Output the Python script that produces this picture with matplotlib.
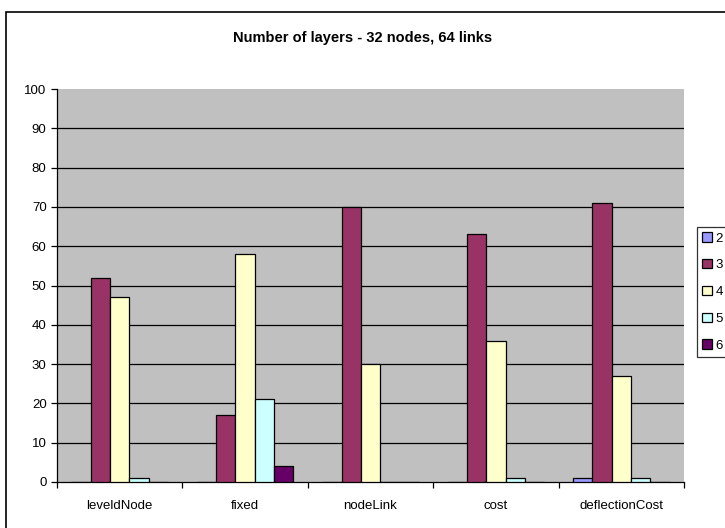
import matplotlib
matplotlib.use('Agg')
import matplotlib.pyplot as plt
import numpy as np
from matplotlib.patches import Rectangle

plt.rcParams['font.family'] = ['Liberation Sans', 'DejaVu Sans']

# Number of layers per routing method (32 nodes, 64 links)
methods = ['leveldNode', 'fixed', 'nodeLink', 'cost', 'deflectionCost']
layers = ['2', '3', '4', '5', '6']
layer2 = [0, 0, 0, 0, 1]
layer3 = [52, 17, 70, 63, 71]
layer4 = [47, 58, 30, 36, 27]
layer5 = [1, 21, 0, 1, 1]
layer6 = [0, 4, 0, 0, 0]
yticks = [0, 10, 20, 30, 40, 50, 60, 70, 80, 90, 100]

series = [layer2, layer3, layer4, layer5, layer6]
colors = ['#9999FF', '#993366', '#FFFFCC', '#CCFFFF', '#660066']

fig = plt.figure(figsize=(7.25, 5.28), dpi=100)
ax = fig.add_axes([57/725, 46/528, (684-57)/725, (482-89)/528])
ax.set_facecolor('#C0C0C0')

# outer chart border, runs off the right and bottom edges
fig.patches.append(Rectangle((6/725, -0.1), 1.2, 1 - 12/528 + 0.1,
                             transform=fig.transFigure, fill=False,
                             edgecolor='black', linewidth=1.2, clip_on=False))

n = len(series)
x = np.arange(len(methods))
w = 1.0 / (n + 1.5)
for i, (vals, c) in enumerate(zip(series, colors)):
    ax.bar(x + (i - (n - 1) / 2) * w, vals, w, color=c, edgecolor='black',
           linewidth=0.9, label=layers[i], zorder=3)

for t in yticks[1:-1]:
    ax.axhline(t, color='black', linewidth=0.9, zorder=1)

ax.set_xlim(-0.5, len(methods) - 0.5)
ax.set_ylim(0, 100)
ax.set_yticks(yticks)
ax.set_xticks(x)
ax.set_xticklabels(methods, fontsize=9.5)
ax.set_xticks(np.arange(len(methods) + 1) - 0.5, minor=True)
ax.tick_params(axis='x', which='major', length=0, pad=13)
ax.tick_params(axis='x', which='minor', length=4, direction='out', width=0.9)
ax.tick_params(axis='y', length=4, direction='out', width=0.9, labelsize=9.5)

for s in ['top', 'right']:
    ax.spines[s].set_visible(False)
for s in ['left', 'bottom']:
    ax.spines[s].set_linewidth(0.9)

fig.text(0.5, 1 - 38/528, 'Number of layers - 32 nodes, 64 links',
         ha='center', va='center', fontsize=10.5, fontweight='bold')

leg = fig.legend(loc='upper left', bbox_to_anchor=(697/725, 1 - 227/528),
                 fontsize=9.5, frameon=True, fancybox=False, edgecolor='black',
                 handlelength=0.7, handleheight=0.7, handletextpad=0.3,
                 labelspacing=1.1, borderpad=0.4, borderaxespad=0)
leg.get_frame().set_linewidth(0.9)

fig.savefig('out.png', dpi=100)
